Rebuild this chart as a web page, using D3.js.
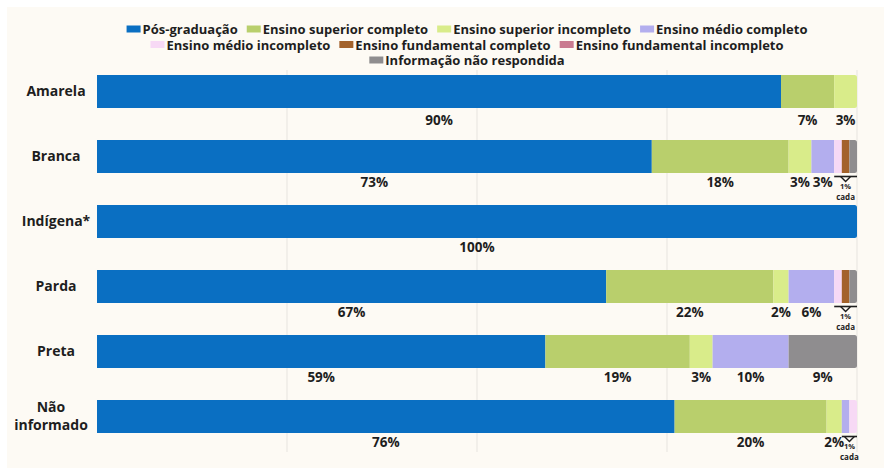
<!DOCTYPE html>
<html>
<head>
<meta charset="utf-8">
<script src="https://cdn.jsdelivr.net/npm/d3@7"></script>
<style>
  html, body { margin: 0; padding: 0; background: #ffffff; }
  svg { display: block; font-family: "Open Sans", "Noto Sans", sans-serif; }
</style>
</head>
<body>
<svg id="chart" width="886" height="469"></svg>
<script>
// Raça/cor categories (rows)
const categories = ["Amarela", "Branca", "Indígena*", "Parda", "Preta", "Não informado"];

// Education levels (stack order) and their colours
const levels = [
  "Pós-graduação",
  "Ensino superior completo",
  "Ensino superior incompleto",
  "Ensino médio completo",
  "Ensino médio incompleto",
  "Ensino fundamental completo",
  "Ensino fundamental incompleto",
  "Informação não respondida"
];
const levelColors = ["#0a6fc2", "#b9cf6c", "#d9ec8a", "#b3aeee", "#f7d9f5", "#a3622b", "#c97a8f", "#8f8d8f"];

// Percent per level, one value per category (same order as categories)
const posGraduacao        = [90, 73, 100, 67, 59, 76];
const superiorCompleto    = [ 7, 18,   0, 22, 19, 20];
const superiorIncompleto  = [ 3,  3,   0,  2,  3,  2];
const medioCompleto       = [ 0,  3,   0,  6, 10,  1];
const medioIncompleto     = [ 0,  1,   0,  1,  0,  1];
const fundamentalCompleto = [ 0,  1,   0,  1,  0,  0];
const fundamentalIncompl  = [ 0,  0,   0,  0,  0,  0];
const naoRespondida       = [ 0,  1,   0,  1,  9,  0];

const seriesValues = [posGraduacao, superiorCompleto, superiorIncompleto, medioCompleto,
                      medioIncompleto, fundamentalCompleto, fundamentalIncompl, naoRespondida];

const legendRows = [[0, 1, 2, 3], [4, 5, 6], [7]];

const rows = categories.map((c, i) => {
  const r = { cat: c };
  levels.forEach((l, j) => { r[l] = seriesValues[j][i]; });
  return r;
});

const svg = d3.select("#chart");

// off-white panel
svg.append("rect")
  .attr("x", 7).attr("y", 7).attr("width", 877).attr("height", 461)
  .attr("fill", "#fdfaf4");

const x = d3.scaleLinear().domain([0, 100]).range([97, 857]);
const y = d3.scaleBand().domain(categories).range([75, 433])
  .paddingInner(32 / 65).paddingOuter(0);

// vertical gridlines
svg.append("g").selectAll("line")
  .data([25, 50, 75, 100])
  .join("line")
  .attr("x1", d => x(d)).attr("x2", d => x(d))
  .attr("y1", 70).attr("y2", 452)
  .attr("stroke", "#ebe8e2").attr("stroke-width", 1.2);

const stacked = d3.stack().keys(levels)(rows);

// rounded right end on each bar through a clip path
const defs = svg.append("defs");
categories.forEach((c, i) => {
  defs.append("clipPath").attr("id", "clip" + i)
    .append("rect")
    .attr("x", x(0) - 3).attr("y", y(c))
    .attr("width", x(100) - x(0) + 3).attr("height", y.bandwidth())
    .attr("rx", 2.5);
});

const barG = svg.append("g");
stacked.forEach((layer, j) => {
  barG.append("g").attr("fill", levelColors[j])
    .selectAll("rect")
    .data(layer.filter(d => d[1] > d[0]))
    .join("rect")
    .attr("clip-path", d => "url(#clip" + categories.indexOf(d.data.cat) + ")")
    .attr("x", d => x(d[0]))
    .attr("y", d => y(d.data.cat))
    .attr("width", d => x(d[1]) - x(d[0]))
    .attr("height", y.bandwidth());
});

// category labels
svg.append("g").selectAll("text")
  .data(categories)
  .join("text")
  .attr("y", d => y(d) + y.bandwidth() / 2)
  .attr("text-anchor", "middle")
  .attr("font-size", 14).attr("font-weight", 700).attr("fill", "#1e1e1e")
  .each(function (d) {
    const t = d3.select(this);
    const parts = d === "Não informado" ? ["Não", "informado"] : [d];
    const lx = parts.length > 1 ? 51 : 56;
    parts.forEach((p, k) => {
      t.append("tspan").attr("x", lx)
        .attr("dy", k === 0 ? (parts.length === 1 ? "0.35em" : "-0.35em") : "1.3em")
        .text(p);
    });
  });

// value labels under segments; 1% segments are grouped under a bracket
const labelG = svg.append("g");
rows.forEach((r, i) => {
  const cat = r.cat;
  const by = y(cat) + y.bandwidth();
  const ones = [];
  const labelDy = i === 0 ? 17 : 13.5;
  stacked.forEach(layer => {
    const d = layer[i];
    const v = d[1] - d[0];
    if (v <= 0) return;
    if (v === 1) { ones.push(d); return; }
    labelG.append("text")
      .attr("x", x((d[0] + d[1]) / 2))
      .attr("y", by + labelDy)
      .attr("text-anchor", "middle")
      .attr("font-size", 13.5).attr("font-weight", 700).attr("fill", "#1e1e1e")
      .text(v + "%");
  });
  if (ones.length) {
    const x0 = x(d3.min(ones, d => d[0]));
    const x1 = x(d3.max(ones, d => d[1]));
    const cx = (x0 + x1) / 2;
    const ly = by + 3.5;
    labelG.append("line")
      .attr("x1", x0).attr("x2", x1).attr("y1", ly).attr("y2", ly)
      .attr("stroke", "#1e1e1e").attr("stroke-width", 1.6);
    labelG.append("path")
      .attr("d", `M${cx - 5},${ly} L${cx},${ly + 5} L${cx + 5},${ly}`)
      .attr("fill", "none").attr("stroke", "#1e1e1e").attr("stroke-width", 1.4);
    labelG.append("text")
      .attr("x", cx).attr("y", ly + 12.5)
      .attr("text-anchor", "middle")
      .attr("font-size", 7.5).attr("font-weight", 700).attr("fill", "#1e1e1e")
      .text("1%");
    labelG.append("text")
      .attr("x", cx).attr("y", ly + 23.5)
      .attr("text-anchor", "middle")
      .attr("font-size", 8).attr("font-weight", 700).attr("fill", "#1e1e1e")
      .text("cada");
  }
});

// legend, three centred rows
const legend = svg.append("g");
const swW = 14, swH = 7, swGap = 2, itemGap = 9;
legendRows.forEach((idxs, ri) => {
  const rowG = legend.append("g");
  const ly = 34 + ri * 15.5;
  let cx = 0;
  idxs.forEach(j => {
    rowG.append("rect")
      .attr("x", cx).attr("y", ly - 8.5)
      .attr("width", swW).attr("height", swH)
      .attr("fill", levelColors[j]);
    const t = rowG.append("text")
      .attr("x", cx + swW + swGap).attr("y", ly)
      .attr("font-size", 13).attr("font-weight", 700).attr("fill", "#1e1e1e")
      .text(levels[j]);
    cx += swW + swGap + t.node().getComputedTextLength() + itemGap;
  });
  const w = cx - itemGap;
  rowG.attr("transform", `translate(${467 - w / 2},0)`);
});
</script>
</body>
</html>
